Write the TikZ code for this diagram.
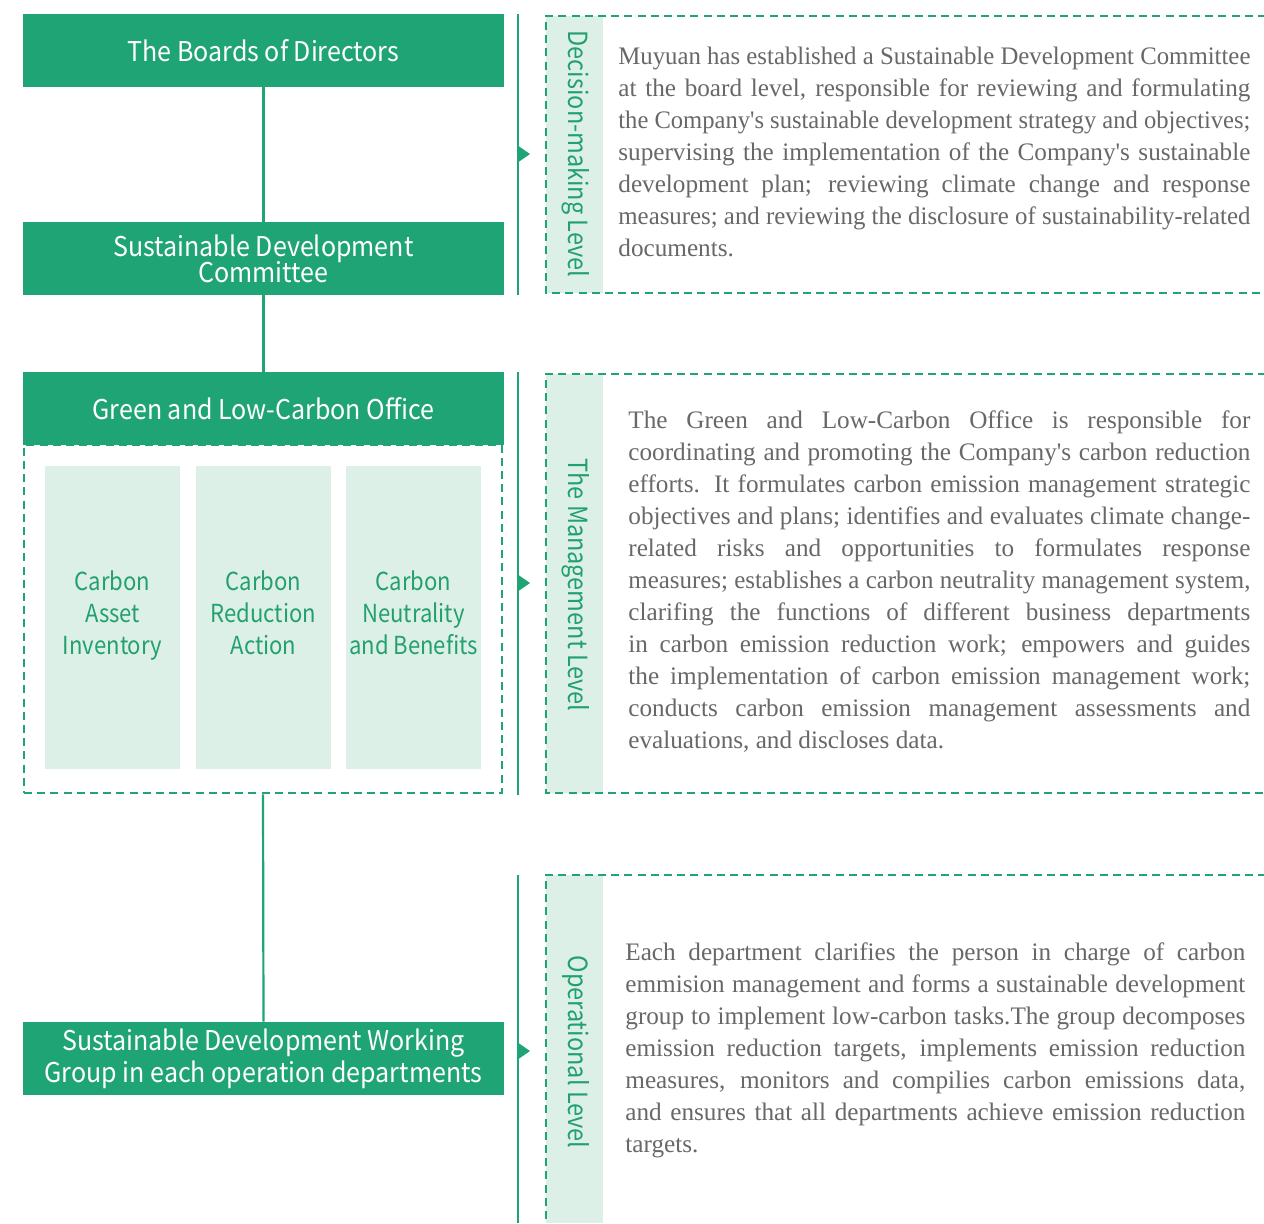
\documentclass[tikz,border=0pt]{standalone}
\usepackage{graphicx}
\usepackage{fontspec}
\setmainfont{Liberation Serif}
\newfontfamily\hsans[FakeStretch=0.92]{Noto Sans CJK SC}
\newfontfamily\hsansn[FakeStretch=0.89]{Noto Sans CJK SC}
\definecolor{gmain}{HTML}{1FA475}
\definecolor{glight}{HTML}{DDF0E8}
\definecolor{gtext}{HTML}{22A06F}
\definecolor{bodygrey}{HTML}{686868}
\newlength\linew
\newsavebox\jlbox
\newcommand\jl[1]{\sbox\jlbox{#1}%
  \ifdim\wd\jlbox>\linew\resizebox{\linew}{\height}{\usebox\jlbox}%
  \else\makebox[\linew][s]{#1}\fi}
\begin{document}
\begin{tikzpicture}[x=0.5pt,y=-0.5pt,
  headbox/.style={rectangle,fill=gmain,text=white,inner sep=0pt,
    minimum width=240.5pt,minimum height=36.5pt,align=center,
    font=\hsans\fontsize{13.6}{13}\selectfont},
  subbox/.style={rectangle,fill=glight,inner sep=0pt,
    minimum width=67.5pt,minimum height=151.5pt},
  subtext/.style={text=gtext,inner sep=0pt,align=center,yshift=1pt,
    font=\hsansn\fontsize{12.4}{16}\selectfont},
  link/.style={draw=gmain,line width=1.1pt},
  dashframe/.style={draw=gmain,line width=1.35pt,dash pattern=on 4pt off 2.6pt},
  levellabel/.style={rotate=-90,text=gtext,inner sep=0pt,
    font=\hsansn\fontsize{13.2}{13}\selectfont},
  bodyline/.style={anchor=base west,inner sep=0pt,text=bodygrey,
    font=\fontsize{12.6}{16}\selectfont}]
\useasboundingbox (0,0) rectangle (1264,1223);
\fill[white] (0,0) rectangle (1264,1223);

% ---------- left column ----------
\node[dashframe,minimum width=239pt,minimum height=174pt,inner sep=0pt] (frame) at (263,619) {};
\node[headbox] (bod) at (263.5,50.5) {The Boards of Directors};
\node[headbox] (sdc) at (263.5,258.5) {Sustainable Development\\[-1.6pt]Committee};
\node[headbox,font=\hsans\fontsize{13.6}{16}\selectfont] (sdwg) at (263.5,1058.5) {Sustainable Development Working\\Group in each operation departments};
\node[headbox] (glco) at (263.5,408.5) {Green and Low-Carbon Office};

\node[subbox] (cai) at (112.5,617.5) {};
\node[subbox] (cra) at (263.5,617.5) {};
\node[subbox] (cnb) at (413.5,617.5) {};
\node[subtext] (caitx) at (cai) {Carbon\\Asset\\Inventory};
\node[subtext] (cratx) at (cra) {Carbon\\Reduction\\Action\vphantom{y}};
\node[subtext] (cnbtx) at (cnb) {Carbon\\Neutrality\\and Benefits\vphantom{y}};

\draw[link] (bod.south) -- (sdc.north);
\draw[link] (sdc.south) -- (glco.north);
\draw[link] (frame.south) -- (sdwg.north);

% ---------- level brackets ----------
\coordinate (b1t) at (518,14);  \coordinate (b1b) at (518,295);
\coordinate (b2t) at (518,372); \coordinate (b2b) at (518,795);
\coordinate (b3t) at (518,875); \coordinate (b3b) at (518,1223);
\draw[link] (b1t) -- (b1b);
\draw[link] (b2t) -- (b2b);
\draw[link] (b3t) -- (b3b);
\fill[gmain] (517,145) -- (530,154) -- (517,163) -- cycle;
\fill[gmain] (517,574) -- (530,583) -- (517,592) -- cycle;
\fill[gmain] (517,1042) -- (530,1051) -- (517,1060) -- cycle;

% ---------- right panels ----------
\fill[glight] (546,16) rectangle (603,293);
\fill[glight] (546,374) rectangle (603,793);
\fill[glight] (546,875) rectangle (603,1223);
\draw[dashframe] (1266,16) -- (546,16) -- (546,293) -- (1266,293);
\draw[dashframe] (1266,374) -- (546,374) -- (546,793) -- (1266,793);
\draw[dashframe] (1266,875) -- (546,875) -- (546,1225);

\node[levellabel] (lv1) at (576,154) {Decision-making Level};
\node[levellabel] (lv2) at (576,585) {The Management Level};
\node[levellabel] (lv3) at (576,1052) {Operational Level};

\setlength\linew{316pt}
\foreach \t [count=\i] in {
 {\jl{Muyuan has established a Sustainable Development Committee}},
 {\jl{at the board level, responsible for reviewing and formulating}},
 {\jl{the Company\textquotesingle s sustainable development strategy and objectives;}},
 {\jl{supervising the implementation of the Company\textquotesingle s sustainable}},
 {\jl{development plan; reviewing climate change and response}},
 {\jl{measures; and reviewing the disclosure of sustainability-related}},
 {documents.}}
 \node[bodyline] (pa\i) at (618,{64+32*(\i-1)}) {\t};

\setlength\linew{311pt}
\foreach \t [count=\i] in {
 {\jl{The Green and Low-Carbon Office is responsible for}},
 {\jl{coordinating and promoting the Company\textquotesingle s carbon reduction}},
 {\jl{efforts. It formulates carbon emission management strategic}},
 {\jl{objectives and plans; identifies and evaluates climate change-}},
 {\jl{related risks and opportunities to formulates response}},
 {\jl{measures; establishes a carbon neutrality management system,}},
 {\jl{clarifing the functions of different business departments}},
 {\jl{in carbon emission reduction work; empowers and guides}},
 {\jl{the implementation of carbon emission management work;}},
 {\jl{conducts carbon emission management assessments and}},
 {evaluations, and discloses data.}}
 \node[bodyline] (pb\i) at (628,{428+32*(\i-1)}) {\t};

\setlength\linew{310pt}
\foreach \t [count=\i] in {
 {\jl{Each department clarifies the person in charge of carbon}},
 {\jl{emmision management and forms a sustainable development}},
 {\jl{group to implement low-carbon tasks.The group decomposes}},
 {\jl{emission reduction targets, implements emission reduction}},
 {\jl{measures, monitors and compilies carbon emissions data,}},
 {\jl{and ensures that all departments achieve emission reduction}},
 {targets.}}
 \node[bodyline] (pc\i) at (625,{960+32*(\i-1)}) {\t};
\end{tikzpicture}
\end{document}
